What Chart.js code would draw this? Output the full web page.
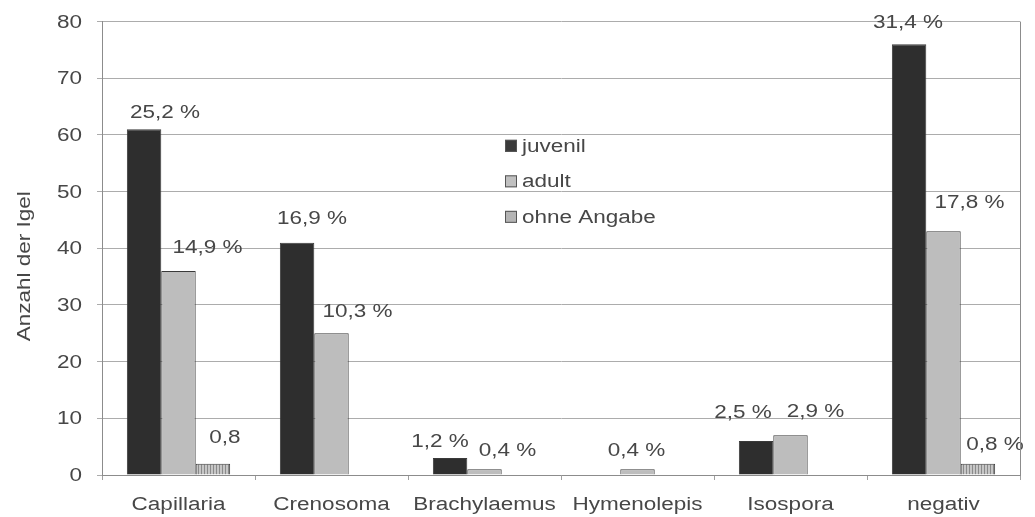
<!DOCTYPE html>
<html>
<head>
<meta charset="utf-8">
<script src="https://cdn.jsdelivr.net/npm/chart.js@4/dist/chart.umd.min.js"></script>
<style>
  html, body { margin: 0; padding: 0; background: #ffffff; }
  #wrap { width: 1035px; height: 517px; }
</style>
</head>
<body>
<div id="wrap"><canvas id="c" width="1035" height="517"></canvas></div>
<script>
// Parasite findings per age group (number of hedgehogs)
const categories = ['Capillaria', 'Crenosoma', 'Brachylaemus', 'Hymenolepis', 'Isospora', 'negativ'];
const seriesNames = ['juvenil', 'adult', 'ohne Angabe'];
const juvenil = [61, 41, 3, 0, 6, 76];
const adult = [36, 25, 1, 1, 7, 43];
const ohneAngabe = [2, 0, 0, 0, 0, 2];

// Percentage labels printed above the bars
const juvenilPct = ['25,2 %', '16,9 %', '1,2 %', null, '2,5 %', '31,4 %'];
const adultPct = ['14,9 %', '10,3 %', '0,4 %', '0,4 %', '2,9 %', '17,8 %'];
const ohnePct = ['0,8', null, null, null, null, '0,8 %'];

// Label nudges [dx, dy] in pixels relative to the bar top
const juvenilShift = [[21, -16], [15, -24], [-10, -16], [0, 0], [-13, -28], [-1, -21]];
const adultShift = [[29, -23], [26, -21], [23, -18], [-1, -18], [25, -23], [26, -28]];
const ohneShift = [[12, -26], [0, 0], [0, 0], [0, 0], [0, 0], [17, -19]];

const yTicks = { min: 0, max: 80, step: 10 };
const axisTitle = 'Anzahl der Igel';

const FONT = '"Liberation Sans", Arial, sans-serif';
const TEXT = '#474747';
const WIDEN = 1.25;   // horizontally widened lettering

function stripePattern() {
  const p = document.createElement('canvas');
  p.width = 3; p.height = 3;
  const g = p.getContext('2d');
  g.fillStyle = '#c6c6c6';
  g.fillRect(0, 0, 3, 3);
  g.fillStyle = '#8a8a8a';
  g.fillRect(0, 0, 1, 3);
  return g.createPattern(p, 'repeat');
}

const ctx = document.getElementById('c').getContext('2d');
const stripes = stripePattern();

const fills = ['#2e2e2e', '#bdbdbd', stripes];
const legendFills = ['#3a3a3a', '#c0c0c0', '#b4b4b4'];

const pctLabels = [juvenilPct, adultPct, ohnePct];
const pctShifts = [juvenilShift, adultShift, ohneShift];

function wideText(c, text, x, y, align, rotate) {
  c.save();
  c.translate(x, y);
  if (rotate) c.rotate(rotate);
  c.scale(WIDEN, 1);
  c.textAlign = align;
  c.textBaseline = 'middle';
  c.fillText(text, 0, 0);
  c.restore();
}

const valueLabels = {
  id: 'valueLabels',
  afterDatasetsDraw(chart) {
    const c = chart.ctx;
    c.save();
    c.font = '18px ' + FONT;
    c.fillStyle = TEXT;
    chart.data.datasets.forEach((ds, di) => {
      const meta = chart.getDatasetMeta(di);
      meta.data.forEach((bar, i) => {
        const t = pctLabels[di][i];
        if (!t) return;
        const s = pctShifts[di][i];
        wideText(c, t, bar.x + s[0], bar.y + s[1], 'center');
      });
    });
    c.restore();
  }
};

const textAndFrame = {
  id: 'textAndFrame',
  afterDraw(chart) {
    const c = chart.ctx;
    const a = chart.chartArea;
    const xs = chart.scales.x;
    const ys = chart.scales.y;
    c.save();
    // right border of the plot
    c.strokeStyle = '#8c8c8c';
    c.lineWidth = 1;
    c.beginPath();
    c.moveTo(Math.round(a.right) + 0.5, a.top);
    c.lineTo(Math.round(a.right) + 0.5, a.bottom);
    c.stroke();

    c.font = '18px ' + FONT;
    c.fillStyle = TEXT;

    // y tick labels
    ys.ticks.forEach((t) => {
      wideText(c, String(t.value), ys.right - 20, ys.getPixelForValue(t.value) + 1, 'right');
    });

    // category labels
    categories.forEach((cat, i) => {
      wideText(c, xs.getLabelForValue(i), xs.getPixelForValue(i), a.bottom + 30, 'center');
    });

    // legend inside the plot
    const lx = a.left + (a.right - a.left) * 0.439;
    const ly = a.top + (a.bottom - a.top) * 0.274;
    const gap = 35.5;
    chart.data.datasets.forEach((ds, di) => {
      const y = ly + di * gap;
      c.fillStyle = legendFills[di];
      c.fillRect(lx, y - 6, 12, 12);
      c.strokeStyle = '#555';
      c.strokeRect(lx + 0.5, y - 5.5, 11, 11);
      c.fillStyle = TEXT;
      wideText(c, ds.label, lx + 17, y + 1, 'left');
    });

    // y axis title
    wideText(c, axisTitle, 25, (ys.top + ys.bottom) / 2 + 18, 'center', -Math.PI / 2);
    c.restore();
  }
};

new Chart(ctx, {
  type: 'bar',
  data: {
    labels: categories,
    datasets: [
      { label: seriesNames[0], data: juvenil },
      { label: seriesNames[1], data: adult },
      { label: seriesNames[2], data: ohneAngabe }
    ].map((d, i) => Object.assign(d, {
      backgroundColor: fills[i],
      borderColor: '#3a3a3a',
      borderWidth: 1,
      borderSkipped: 'bottom',
      categoryPercentage: 0.675,
      barPercentage: 1.0
    }))
  },
  options: {
    responsive: false,
    animation: false,
    layout: { padding: { top: 20, right: 15, left: 0, bottom: 0 } },
    plugins: {
      legend: { display: false },
      tooltip: { enabled: false }
    },
    scales: {
      x: {
        grid: {
          display: true,
          drawOnChartArea: false,
          drawTicks: true,
          tickLength: 5,
          color: '#a0a0a0'
        },
        border: { display: true, color: '#8c8c8c' },
        ticks: {
          color: 'rgba(0,0,0,0)',
          font: { family: FONT, size: 16 },
          padding: 14,
          maxRotation: 0,
          autoSkip: false
        },
        afterFit(scale) { scale.height = 42; }
      },
      y: {
        min: yTicks.min,
        max: yTicks.max,
        ticks: {
          stepSize: yTicks.step,
          color: 'rgba(0,0,0,0)',
          font: { family: FONT, size: 16 },
          padding: 12
        },
        grid: {
          color: '#acacac',
          tickLength: 5,
          drawTicks: true
        },
        border: { display: true, color: '#8c8c8c' },
        afterFit(scale) { scale.width = 102; }
      }
    }
  },
  plugins: [valueLabels, textAndFrame]
});
</script>
</body>
</html>
